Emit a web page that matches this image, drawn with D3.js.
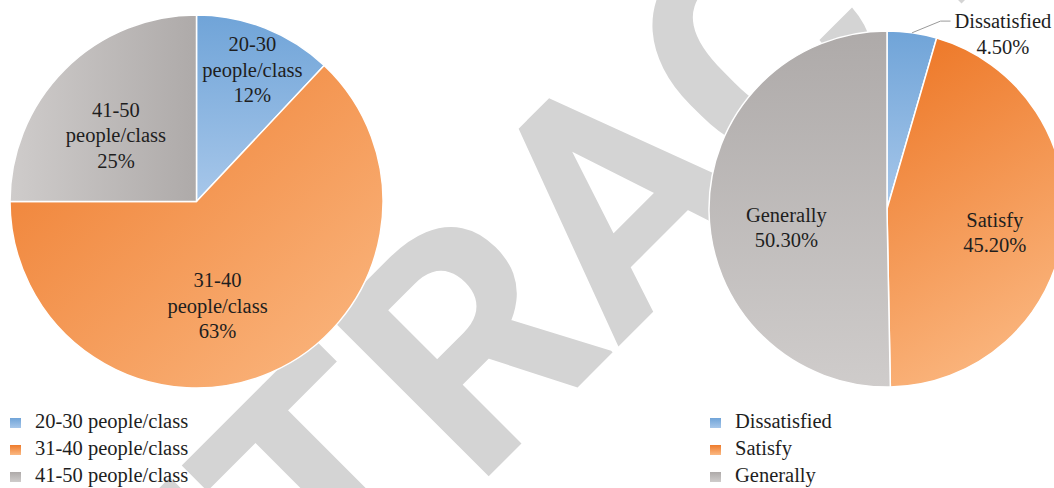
<!DOCTYPE html>
<html>
<head>
<meta charset="utf-8">
<script src="https://cdn.jsdelivr.net/npm/d3@7"></script>
<style>
  html, body { margin: 0; padding: 0; background: #ffffff; }
  svg { display: block; }
</style>
</head>
<body>
<svg id="chart" width="1054" height="488"></svg>
<script>
// ---- data ----
const classSizeCategories = ["20-30 people/class", "31-40 people/class", "41-50 people/class"];
const classSizeLabelLines = [["20-30", "people/class"], ["31-40", "people/class"], ["41-50", "people/class"]];
const classSizeValues = [12, 63, 25];

const satisfactionCategories = ["Dissatisfied", "Satisfy", "Generally"];
const satisfactionValues = [4.5, 45.2, 50.3];

const watermarkText = "RETRACTED";

// ---- layout ----
const svg = d3.select("#chart");
const defs = svg.append("defs");

const serif = "'Liberation Serif', 'Times New Roman', serif";
const textColor = "#1e1e1e";
const fontSize = 20.5;
const lineH = 25.5;

// dark -> light gradient stops for the three slice colours
const palette = [
  { dark: "#70a4d8", light: "#a7c7ea" },   // blue
  { dark: "#ee7b2c", light: "#fbb983" },   // orange
  { dark: "#aeaaa9", light: "#cfcccb" }    // grey
];

function makeGradient(id, c, dir) {
  const g = defs.append("linearGradient").attr("id", id)
    .attr("x1", dir[0]).attr("y1", dir[1]).attr("x2", dir[2]).attr("y2", dir[3]);
  g.append("stop").attr("offset", "0%").attr("stop-color", c.dark);
  g.append("stop").attr("offset", "100%").attr("stop-color", c.light);
  return `url(#${id})`;
}

// ---- diagonal watermark behind everything, centred on its middle letter ----
const wm = svg.append("g").attr("transform", "translate(691.8,273.2) rotate(-45)");
const wmText = wm.append("text")
  .attr("x", 0).attr("y", 0)
  .attr("font-family", "Roboto, 'Liberation Sans', sans-serif")
  .attr("font-weight", 700)
  .attr("font-size", 316)
  .attr("fill", "#d4d4d4")
  .text(watermarkText);
{
  const node = wmText.node();
  const k = Math.floor(watermarkText.length / 2);
  const midX = (node.getStartPositionOfChar(k).x + node.getEndPositionOfChar(k).x) / 2;
  wmText.attr("x", -midX);
}

// ---- pie builder ----
function drawPie(opts) {
  const { cx, cy, r, values, gradDirs, prefix, labelLayout, labelText, outside } = opts;
  const pie = d3.pie().sort(null).value(d => d);
  const arcs = pie(values);
  const arc = d3.arc().innerRadius(0).outerRadius(r);
  const g = svg.append("g").attr("transform", `translate(${cx},${cy})`);

  const fills = arcs.map((a, i) => makeGradient(`${prefix}-g${i}`, palette[i], gradDirs[i]));

  g.selectAll("path.slice").data(arcs).join("path")
    .attr("class", "slice")
    .attr("d", arc)
    .attr("fill", (d, i) => fills[i])
    .attr("stroke", "#ffffff")
    .attr("stroke-width", 1.5)
    .attr("stroke-linejoin", "round");

  arcs.forEach((a, i) => {
    const mid = (a.startAngle + a.endAngle) / 2;
    const lay = labelLayout[i];
    const ang = mid + lay.shift * Math.PI / 180;
    const lr = r * lay.r;
    const lx = lr * Math.sin(ang);
    const ly = -lr * Math.cos(ang);
    const lines = labelText(i, a);
    const firstBase = ly - (lines.length - 1) * lineH / 2 + 7;
    const t = g.append("text")
      .attr("text-anchor", "middle")
      .attr("font-family", serif)
      .attr("font-size", fontSize)
      .attr("fill", textColor);
    lines.forEach((s, k) => {
      t.append("tspan").attr("x", lx).attr("y", firstBase + k * lineH).text(s);
    });

    // leader line for labels placed outside the pie
    if (outside && outside.includes(i)) {
      const bb = t.node().getBBox();
      const sx = r * Math.sin(mid), sy = -r * Math.cos(mid);
      const ex = bb.x - 4, ey = firstBase - 7;
      g.append("polyline")
        .attr("points", [[sx, sy], [ex - 10, ey], [ex, ey]].map(p => p.join(",")).join(" "))
        .attr("fill", "none")
        .attr("stroke", "#9a9a9a")
        .attr("stroke-width", 1);
    }
  });
}

const pctInt = d3.format(".0f");
const pct2 = d3.format(".2f");

drawPie({
  cx: 196.5, cy: 201.5, r: 186.5,
  values: classSizeValues,
  prefix: "cls",
  gradDirs: [[0.5, 0, 0.5, 1], [0, 0, 1, 1], [1, 0.5, 0, 0.5]],
  labelLayout: [{ r: 0.767, shift: 1.4 }, { r: 0.57, shift: 12 }, { r: 0.56, shift: -5.5 }],
  labelText: (i) => [...classSizeLabelLines[i], pctInt(classSizeValues[i]) + "%"]
});

drawPie({
  cx: 887, cy: 209, r: 178,
  values: satisfactionValues,
  prefix: "sat",
  gradDirs: [[0.5, 0, 0.5, 1], [0.35, 0, 0.65, 1], [0.5, 0, 0.5, 1]],
  labelLayout: [{ r: 1.18, shift: 25.4 }, { r: 0.62, shift: 4.7 }, { r: 0.575, shift: -10 }],
  labelText: (i) => [satisfactionCategories[i], pct2(satisfactionValues[i]) + "%"],
  outside: [0]
});

// ---- legends ----
function drawLegend(x, items, prefix) {
  const baseY = 428, step = 27;
  const g = svg.append("g");
  items.forEach((name, i) => {
    const fill = makeGradient(`${prefix}-lg${i}`, palette[i], [0.5, 0, 0.5, 1]);
    g.append("rect")
      .attr("x", x).attr("y", baseY + i * step - 10)
      .attr("width", 11).attr("height", 10)
      .attr("fill", fill);
    g.append("text")
      .attr("x", x + 25).attr("y", baseY + i * step)
      .attr("font-family", serif)
      .attr("font-size", fontSize)
      .attr("fill", textColor)
      .text(name);
  });
}

drawLegend(10, classSizeCategories, "cls");
drawLegend(710, satisfactionCategories, "sat");
</script>
</body>
</html>
